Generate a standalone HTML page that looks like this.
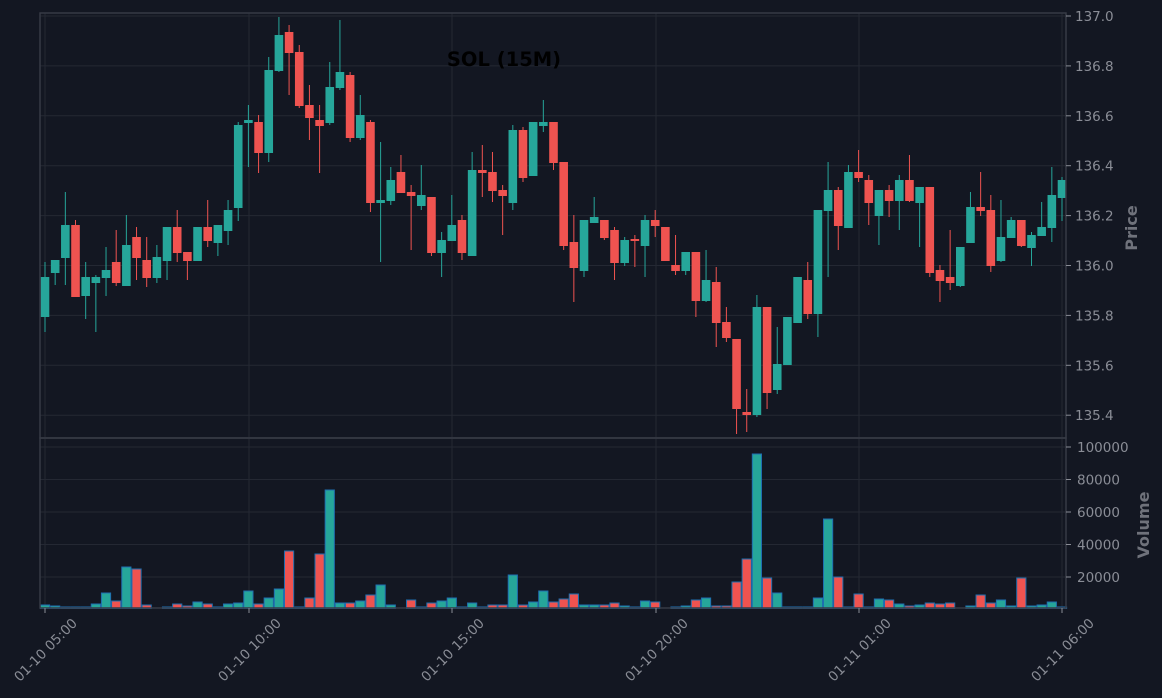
<!DOCTYPE html>
<html><head><meta charset="utf-8"><style>
html,body{margin:0;padding:0;background:#131722;}
svg{display:block;font-family:"DejaVu Sans","Liberation Sans",sans-serif;}
</style></head><body>
<svg id="s" width="1162" height="698" xmlns="http://www.w3.org/2000/svg"></svg>
<script>
var C=[
"g,277,317,262,332","g,260,273,260,285","g,225,258,192,285","r,225,297,220,297","g,277,296,262,319",
"g,277,283,275,332","g,270,278,247,296","r,262,283,230,286","g,245,286,215,286","r,237,258,227,280",
"r,260,278,237,287","g,257,278,245,283","g,227,261,227,280","r,227,253,210,262","r,252,261,252,280",
"g,227,261,227,261","r,227,241,200,247","g,225,243,225,256","g,210,231,200,245","g,125,208,122,221",
"g,120,123,105,167","r,122,153,115,173","g,70,153,57,162","g,35,71,17,72","r,32,53,25,95",
"r,52,106,45,108","r,105,118,85,140","r,120,126,105,173","g,87,123,62,125","g,72,88,20,90",
"r,75,138,72,142","g,115,138,95,140","r,122,203,120,212","g,200,203,142,262","g,180,201,167,205",
"r,172,193,155,193","r,192,196,185,250","g,195,206,165,210","r,197,253,197,256","g,240,253,232,277",
"g,225,241,195,241","r,220,253,215,260","g,170,256,152,256","r,170,173,145,197","r,172,191,152,202",
"r,190,196,185,235","g,130,203,125,210","r,130,178,127,182","g,122,176,122,176","g,122,126,100,132",
"r,122,163,122,170","r,162,246,162,250","r,242,268,215,302","g,220,271,220,277","g,217,223,197,223",
"r,220,238,220,240","r,230,263,227,280","g,240,263,237,266","r,239,241,235,267","g,220,246,215,277",
"r,220,226,210,237","r,227,261,227,261","r,265,271,235,275","g,252,271,252,275","r,252,301,252,317",
"g,280,301,250,302","r,282,323,267,347","r,322,338,307,342","r,339,409,339,434","r,412,415,389,432",
"g,307,415,295,417","r,307,393,307,409","g,364,390,327,394","g,317,365,317,365","g,277,323,277,323",
"r,280,314,262,319","g,210,314,210,337","g,190,211,162,277","r,190,226,187,250","g,172,228,165,228",
"r,172,178,150,182","r,180,203,175,225","g,190,216,190,245","r,190,201,185,217","g,180,201,175,230",
"r,180,201,155,202","g,187,203,187,247","r,187,273,187,277","r,270,281,265,302","r,277,283,230,290",
"g,247,286,247,287","g,207,243,192,243","r,207,211,172,216","r,210,266,195,272","g,237,261,200,262",
"g,220,238,217,238","r,220,246,220,247","g,235,248,232,266","g,227,236,202,236","g,195,228,167,242",
"g,180,198,177,221"];
var V=[605,606,607,607,607,604,593,601,567,569,605,608,607,604,606,602,604,607,604,603,591,604,598,589,551,607,598,554,490,603,603,601,595,585,605,608,600,607,603,601,598,607,603,607,605,605,575,605,602,591,602,599,594,605,605,605,603,606,607,601,602,608,607,606,600,598,606,606,582,559,454,578,593,607,607,607,598,519,577,607,594,607,599,600,604,606,605,603,604,603,608,606,595,603,600,606,578,606,605,602,607];
var G="#26a69a",R="#ef5350",h="";
var L=40,Rr=1066,T=13,M=438,B=608;
for(var p=0;p<=8;p++){var y=16+p*49.9;h+='<line x1="'+L+'" x2="'+Rr+'" y1="'+y+'" y2="'+y+'" stroke="#242833" stroke-width="1"/>';}
for(var k=0;k<=4;k++){var y=447+k*32.5;h+='<line x1="'+L+'" x2="'+Rr+'" y1="'+y+'" y2="'+y+'" stroke="#242833" stroke-width="1"/>';}
var xt=[45,249,452,656,859,1062],xl=["01-10 05:00","01-10 10:00","01-10 15:00","01-10 20:00","01-11 01:00","01-11 06:00"];
xt.forEach(function(x){h+='<line x1="'+x+'" x2="'+x+'" y1="'+T+'" y2="'+B+'" stroke="#242833"/>';});
for(var i=0;i<C.length;i++){var d=C[i].split(","),c=d[0]=="g"?G:R,x=45+i*10.17;
var t=+d[1],b=+d[2],hi=+d[3],lo=+d[4];if(b-t<1.5){b=t+1.5;}
h+='<line x1="'+x+'" x2="'+x+'" y1="'+hi+'" y2="'+lo+'" stroke="'+c+'" stroke-width="1"/>';
h+='<rect x="'+(x-4.3)+'" y="'+t+'" width="8.6" height="'+(b-t)+'" fill="'+c+'"/>';
var vy=V[i];if(vy<608){h+='<rect x="'+(x-4.6)+'" y="'+vy+'" width="9.2" height="'+(608.5-vy)+'" fill="'+c+'" stroke="#1f6fb0" stroke-width="1"/>';}}
h+='<rect x="'+L+'" y="'+T+'" width="'+(Rr-L)+'" height="'+(M-T)+'" fill="none" stroke="#363a45" stroke-width="1.5"/>';
h+='<rect x="'+L+'" y="'+M+'" width="'+(Rr-L)+'" height="'+(B-M)+'" fill="none" stroke="#363a45" stroke-width="1.5"/>';
for(var p=0;p<=8;p++){var y=16+p*49.9,v=(137-p*0.2).toFixed(1);h+='<line x1="1066" x2="1071" y1="'+y+'" y2="'+y+'" stroke="#8a8d96"/><text x="1075" y="'+(y+5)+'" font-size="13.5" fill="#8a8d96">'+v+'</text>';}
for(var k=0;k<=4;k++){var y=447+k*32.5,v=100000-k*20000;h+='<line x1="1066" x2="1071" y1="'+y+'" y2="'+y+'" stroke="#8a8d96"/><text x="1077" y="'+(y+5)+'" font-size="13.5" fill="#8a8d96">'+v+'</text>';}
xt.forEach(function(x,j){h+='<line x1="'+x+'" x2="'+x+'" y1="608" y2="613" stroke="#8a8d96"/><text transform="translate('+(x+33)+',624) rotate(-45)" text-anchor="end" font-size="13.5" fill="#8a8d96">'+xl[j]+'</text>';});
h+='<text transform="translate(1137,228) rotate(-90)" text-anchor="middle" font-size="16" font-weight="bold" fill="#6f727b">Price</text>';
h+='<text transform="translate(1149,525) rotate(-90)" text-anchor="middle" font-size="16" font-weight="bold" fill="#6f727b">Volume</text>';
h+='<text x="504" y="66" text-anchor="middle" font-size="19.5" font-weight="bold" fill="#000">SOL (15M)</text>';
document.getElementById("s").innerHTML=h;
</script>
</body></html>
